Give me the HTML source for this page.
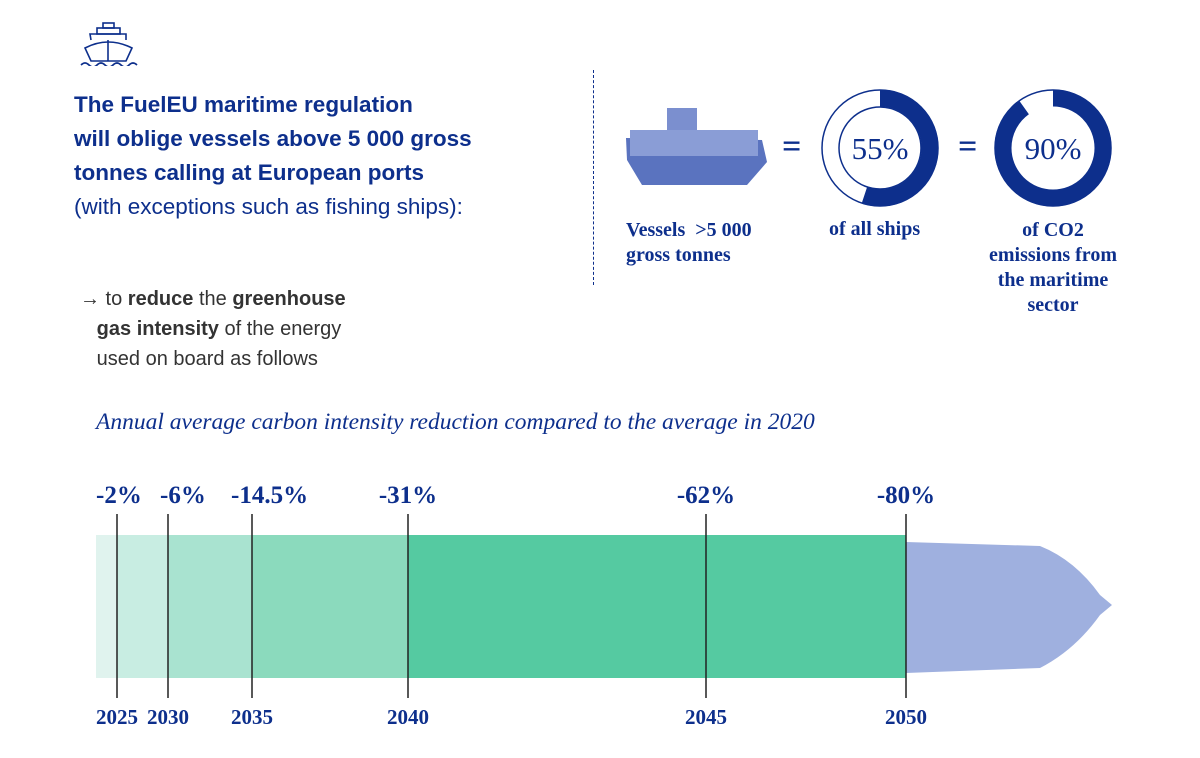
<!DOCTYPE html>
<html><head><meta charset="utf-8"><style>
body{margin:0;background:#fff;width:1200px;height:758px;overflow:hidden;position:relative;font-family:"Liberation Sans",sans-serif;color:#0d2f8c}
.a{position:absolute;margin:0}
.h{font-weight:bold;font-size:22.5px;line-height:34px;left:74px;top:88px;color:#0d2f8c}
.s{font-size:22.5px}
.b{left:80px;top:284px;font-size:20px;line-height:30px;color:#333}
.b b{color:#333}
.ser{font-family:"Liberation Serif",serif}
</style></head><body>
<svg class="a" style="left:80px;top:20px" width="64" height="46" viewBox="0 0 64 46" fill="none" stroke="#0d2f8c" stroke-width="1.6">
<rect x="23" y="3" width="11" height="5"/><rect x="17" y="8" width="23" height="6"/><path d="M11 20 L10 14 L46 14 L46 20"/><path d="M5 28 Q28 16 52 28 L46 41 L11 41 Z"/><line x1="28" y1="20" x2="28" y2="41"/><path d="M1 45 q4-4 8 0 q4 4 8 0 q4-4 8 0 q4 4 8 0 q4-4 8 0 q4 4 8 0 q4-4 8 0"/></svg>
<div class="a h">The FuelEU maritime regulation<br>will oblige vessels above 5 000 gross<br>tonnes calling at European ports<br><span class="s" style="font-weight:normal">(with exceptions such as fishing ships):</span></div>
<div class="a b">→ to <b>reduce</b> the <b>greenhouse</b><br>&nbsp;&nbsp;&nbsp;<b>gas intensity</b> of the energy<br>&nbsp;&nbsp;&nbsp;used on board as follows</div>
<div class="a" style="left:593px;top:70px;height:215px;border-left:1.5px dashed #0d2f8c"></div>
<svg class="a" style="left:622px;top:100px" width="150" height="90"><path d="M4 38 L140 40 L145 62 L125 85 L20 85 L5 60Z" fill="#5a73bf"/><rect x="45" y="8" width="30" height="32" fill="#7b8fcf"/><rect x="8" y="30" width="128" height="26" fill="#8a9dd6"/></svg>
<div class="a ser" style="left:782px;top:128px;font-size:34px;font-weight:bold">=</div>
<div class="a ser" style="left:958px;top:128px;font-size:34px;font-weight:bold">=</div>
<svg class="a" style="left:818px;top:86px" width="124" height="124"><circle cx="62" cy="62" r="58" fill="none" stroke="#0d2f8c" stroke-width="1.5"/><circle cx="62" cy="62" r="41" fill="none" stroke="#0d2f8c" stroke-width="1.5"/><circle cx="62" cy="62" r="50" fill="none" stroke="#0d2f8c" stroke-width="17" stroke-dasharray="172.8 400" transform="rotate(-90 62 62)"/><text x="62" y="73" text-anchor="middle" font-family="Liberation Serif" font-size="31" fill="#0d2f8c">55%</text></svg>
<svg class="a" style="left:991px;top:86px" width="124" height="124"><circle cx="62" cy="62" r="58" fill="none" stroke="#0d2f8c" stroke-width="1.5"/><circle cx="62" cy="62" r="50" fill="none" stroke="#0d2f8c" stroke-width="17" stroke-dasharray="282.7 400" transform="rotate(-90 62 62)"/><text x="62" y="73" text-anchor="middle" font-family="Liberation Serif" font-size="31" fill="#0d2f8c">90%</text></svg>
<div class="a ser" style="left:626px;top:218px;font-size:20px;font-weight:bold;line-height:25px">Vessels &nbsp;&gt;5 000<br>gross tonnes</div>
<div class="a ser" style="left:829px;top:218px;font-size:20px;font-weight:bold">of all ships</div>
<div class="a ser" style="left:978px;top:218px;width:150px;text-align:center;font-size:20px;font-weight:bold;line-height:25px">of CO2<br>emissions from<br>the maritime<br>sector</div>
<div class="a ser" style="left:96px;top:409px;font-size:23.5px;font-style:italic">Annual average carbon intensity reduction compared to the average in 2020</div>
<svg class="a" id="chart" style="left:0;top:470px" width="1200" height="270"></svg>
<script>
const years=[2025,2030,2035,2040,2045,2050];
const reductions=[2,6,14.5,31,62,80];
const labels=["-2%","-6%","-14.5%","-31%","-62%","-80%"];
const greens=["#c8ede2","#a9e3d0","#8bdabd","#55caa1","#55caa1"];
// timeline axis: piecewise-linear layout scale (domain in % reduction, range in px)
const axisDomain=[0,2,6,14.5,31,62,80];
const axisRange=[96,117,168,252,408,706,906];
function x(r){for(let i=1;i<axisDomain.length;i++){if(r<=axisDomain[i]||i===axisDomain.length-1){const d0=axisDomain[i-1],d1=axisDomain[i];return axisRange[i-1]+(r-d0)/(d1-d0)*(axisRange[i]-axisRange[i-1]);}}}
const svg=document.getElementById('chart');const NS="http://www.w3.org/2000/svg";
function el(t,a){const e=document.createElementNS(NS,t);for(const k in a)e.setAttribute(k,a[k]);svg.appendChild(e);return e;}
const bow=el('path',{d:"M906 72 L1040 76 Q1075 90 1100 125 L1112 135 L1100 145 Q1075 180 1040 198 L906 203 Z",fill:"#9fb0df"});


const base=el('rect',{x:96,y:65,width:x(reductions[0])-96,height:143,fill:"#e0f3ee"});


let prev=x(reductions[0]);
for(let i=1;i<reductions.length;i++){const cx=x(reductions[i]);
const r=el('rect',{x:prev,y:65,width:cx-prev,height:143,fill:greens[i-1]});


prev=cx;}
for(let i=0;i<years.length;i++){const cx=x(reductions[i]);
const l=el('line',{x1:cx,x2:cx,y1:44,y2:228,stroke:"#222","stroke-width":1.5});


const early=i<3;
const t=el('text',{x:early?cx-(i===1?8:21):cx,y:33,"text-anchor":early?"start":"middle","font-family":"Liberation Serif","font-size":25,"font-weight":"bold",fill:"#0d2f8c"});t.textContent=labels[i];


const y=el('text',{x:cx,y:254,"text-anchor":"middle","font-family":"Liberation Serif","font-size":21,"font-weight":"bold",fill:"#0d2f8c"});y.textContent=years[i];

}
</script>
</body></html>
